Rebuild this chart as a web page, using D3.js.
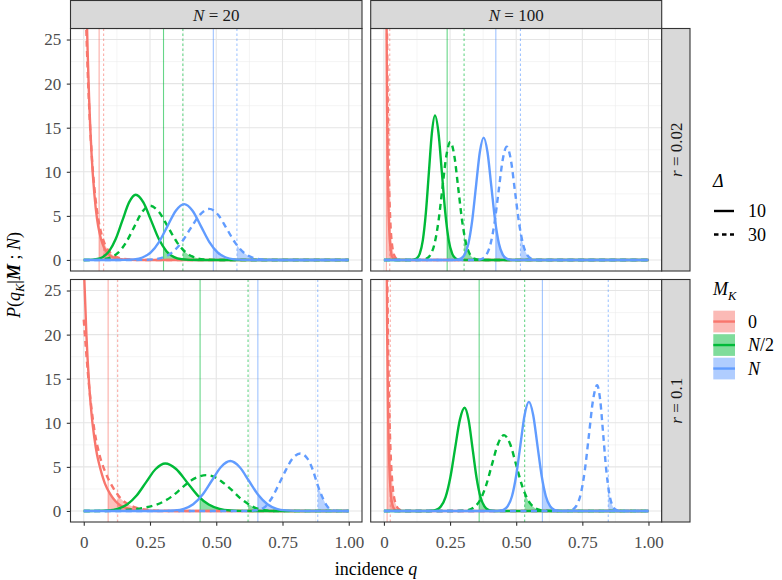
<!DOCTYPE html>
<html><head><meta charset="utf-8">
<script src="https://cdn.jsdelivr.net/npm/d3@7"></script>
<style>
body{margin:0;background:#fff}
svg{display:block}
text{font-family:"Liberation Serif","Times New Roman","DejaVu Serif",serif}
</style>
</head><body>
<svg id="chart" width="782" height="580"></svg>
<script>
// ---------- tick labels / categories ----------
const qTicks = [0, 0.25, 0.5, 0.75, 1];
const qTickLabels = ["0", "0.25", "0.50", "0.75", "1.00"];
const qMinor = [0.125, 0.375, 0.625, 0.875];
const densTicks = [0, 5, 10, 15, 20, 25];
const densMinor = [2.5, 7.5, 12.5, 17.5, 22.5];
const colLabels = ["20", "100"];          // N
const rowLabels = ["0.02", "0.1"];        // r
const mkLabels = ["0", "N/2", "N"];
const deltaLabels = ["10", "30"];
const mkColors = ["#F8766D", "#00BA38", "#619CFF"];

// ---------- densities (q, P) : panel N=20, r=0.02 ----------
const A_M0_d10 = [[0,46],[0.005,36.6],[0.01,29.2],[0.015,23.3],[0.02,18.5],[0.03,11.7],[0.04,7.5],[0.05,4.7],[0.06,3.0],[0.07,1.9],[0.08,1.2],[0.1,0.49],[0.12,0.2],[0.15,0.05],[0.2,0],[1,0]];
const A_M0_d30 = [[0,38],[0.005,31.3],[0.01,25.8],[0.015,21.3],[0.02,17.6],[0.03,12.0],[0.04,8.2],[0.05,5.6],[0.06,3.8],[0.07,2.6],[0.08,1.75],[0.1,0.82],[0.12,0.38],[0.15,0.12],[0.2,0.02],[0.25,0],[1,0]];
const A_Mh_d10 = [[0,0],[0.02,0.01],[0.046,0.08],[0.071,0.32],[0.096,1.0],[0.121,2.4],[0.146,4.49],[0.171,6.53],[0.196,7.4],[0.225,6.53],[0.254,4.49],[0.283,2.4],[0.312,1.0],[0.341,0.32],[0.37,0.08],[0.399,0.016],[0.43,0],[1,0]];
const A_Mh_d30 = [[0,0],[0.04,0.01],[0.07,0.068],[0.1,0.27],[0.13,0.83],[0.16,2.0],[0.19,3.73],[0.22,5.43],[0.25,6.15],[0.284,5.43],[0.318,3.73],[0.352,2.0],[0.386,0.83],[0.42,0.27],[0.454,0.068],[0.49,0.012],[0.53,0],[1,0]];
const A_MN_d10 = [[0,0],[0.12,0],[0.159,0.014],[0.19,0.07],[0.2215,0.28],[0.253,0.86],[0.2845,2.06],[0.316,3.84],[0.3475,5.59],[0.379,6.33],[0.4105,5.59],[0.442,3.84],[0.4735,2.06],[0.505,0.86],[0.5365,0.28],[0.568,0.07],[0.599,0.014],[0.64,0],[1,0]];
const A_MN_d30 = [[0,0],[0.18,0],[0.22,0.013],[0.258,0.064],[0.294,0.25],[0.33,0.78],[0.366,1.88],[0.402,3.52],[0.438,5.12],[0.474,5.8],[0.507,5.12],[0.54,3.52],[0.573,1.88],[0.606,0.78],[0.639,0.25],[0.672,0.064],[0.705,0.013],[0.74,0],[1,0]];
const vA = [0.058, 0.075, 0.301, 0.374, 0.489, 0.578];

// ---------- panel N=100, r=0.02 ----------
const B_M0_d10 = [[0,190],[0.004,85],[0.008,38],[0.012,17],[0.016,7.7],[0.02,3.5],[0.025,1.3],[0.03,0.47],[0.04,0.06],[0.05,0],[1,0]];
const B_M0_d30 = [[0,140],[0.004,79],[0.008,45],[0.012,25],[0.016,14.3],[0.02,8.1],[0.025,3.9],[0.03,1.9],[0.035,0.94],[0.04,0.46],[0.05,0.11],[0.06,0.03],[0.07,0],[1,0]];
const B_Mh_d10 = [[0,0],[0.1,0],[0.1125,0.036],[0.124,0.18],[0.1355,0.72],[0.147,2.22],[0.1585,5.33],[0.17,9.95],[0.1815,14.47],[0.193,16.4],[0.206,14.47],[0.219,9.95],[0.232,5.33],[0.245,2.22],[0.258,0.72],[0.271,0.18],[0.284,0.036],[0.3,0],[1,0]];
const B_Mh_d30 = [[0,0],[0.13,0],[0.146,0.03],[0.161,0.15],[0.176,0.59],[0.191,1.81],[0.206,4.35],[0.221,8.13],[0.236,11.83],[0.251,13.4],[0.266,11.83],[0.281,8.13],[0.296,4.35],[0.311,1.81],[0.326,0.59],[0.341,0.15],[0.356,0.03],[0.37,0],[1,0]];
const B_MN_d10 = [[0,0],[0.26,0],[0.2762,0.03],[0.2906,0.154],[0.305,0.61],[0.3194,1.88],[0.3338,4.5],[0.3482,8.41],[0.3626,12.24],[0.377,13.87],[0.3914,12.24],[0.4058,8.41],[0.4202,4.5],[0.4346,1.88],[0.449,0.61],[0.4634,0.154],[0.4778,0.03],[0.49,0],[1,0]];
const B_MN_d30 = [[0,0],[0.34,0],[0.3559,0.028],[0.3714,0.14],[0.3869,0.56],[0.4024,1.74],[0.4179,4.17],[0.4334,7.79],[0.4489,11.34],[0.4644,12.85],[0.4799,11.34],[0.4954,7.79],[0.5109,4.17],[0.5264,1.74],[0.5419,0.56],[0.5574,0.14],[0.5729,0.028],[0.59,0],[1,0]];
const vB = [0.009, 0.022, 0.239, 0.303, 0.423, 0.516];

// ---------- panel N=20, r=0.1 ----------
const C_M0_d10 = [[0,28],[0.01,20],[0.02,14.5],[0.03,10.8],[0.04,8.3],[0.05,6.4],[0.06,5.1],[0.07,4.0],[0.08,3.1],[0.1,1.9],[0.12,1.1],[0.14,0.6],[0.16,0.35],[0.2,0.1],[0.25,0.02],[0.3,0],[1,0]];
const C_M0_d30 = [[0,21.7],[0.02,14.2],[0.04,9.2],[0.06,6.3],[0.08,4.5],[0.1,3.2],[0.12,2.2],[0.14,1.4],[0.16,0.9],[0.2,0.35],[0.25,0.1],[0.3,0.02],[0.35,0],[1,0]];
const C_Mh_d10 = [[0,0],[0.05,0.01],[0.0915,0.06],[0.1275,0.24],[0.1635,0.73],[0.1995,1.75],[0.2355,3.27],[0.2715,4.76],[0.3075,5.39],[0.3485,4.76],[0.3895,3.27],[0.4305,1.75],[0.4715,0.73],[0.5125,0.24],[0.5535,0.06],[0.5945,0.012],[0.64,0],[1,0]];
const C_Mh_d30 = [[0,0],[0.06,0],[0.1,0.02],[0.14,0.07],[0.179,0.16],[0.22,0.33],[0.267,0.65],[0.3,1.05],[0.33,1.6],[0.355,2.2],[0.38,2.87],[0.405,3.45],[0.43,3.85],[0.462,4.07],[0.49,3.9],[0.52,3.35],[0.556,2.45],[0.585,1.6],[0.606,1.1],[0.637,0.5],[0.665,0.18],[0.69,0.05],[0.72,0],[1,0]];
const C_MN_d10 = [[0,0],[0.27,0],[0.308,0.012],[0.343,0.063],[0.378,0.25],[0.413,0.77],[0.448,1.84],[0.483,3.43],[0.518,4.99],[0.553,5.66],[0.588,4.99],[0.623,3.43],[0.658,1.84],[0.693,0.77],[0.728,0.25],[0.763,0.063],[0.798,0.012],[0.84,0],[1,0]];
const C_MN_d30 = [[0,0],[0.62,0],[0.65,0.08],[0.681,0.4],[0.706,1.3],[0.731,2.7],[0.762,4.6],[0.788,5.95],[0.817,6.52],[0.845,5.9],[0.865,4.6],[0.883,2.9],[0.9,1.6],[0.915,0.7],[0.93,0.2],[0.945,0.04],[0.96,0],[1,0]];
const vC = [0.092, 0.128, 0.439, 0.620, 0.657, 0.883];

// ---------- panel N=100, r=0.1 ----------
const D_M0_d10 = [[0,160],[0.004,81],[0.008,41],[0.012,21],[0.016,10.6],[0.02,5.4],[0.025,2.3],[0.03,1.0],[0.04,0.19],[0.05,0.03],[0.06,0],[1,0]];
const D_M0_d30 = [[0,110],[0.005,63],[0.01,36],[0.015,20.8],[0.02,11.9],[0.025,6.8],[0.03,3.9],[0.035,2.2],[0.04,1.3],[0.05,0.43],[0.06,0.14],[0.07,0.05],[0.08,0],[1,0]];
const D_Mh_d10 = [[0,0],[0.16,0],[0.179,0.026],[0.197,0.13],[0.215,0.51],[0.233,1.58],[0.251,3.8],[0.269,7.1],[0.287,10.33],[0.305,11.7],[0.32,10.33],[0.335,7.1],[0.35,3.8],[0.365,1.58],[0.38,0.51],[0.395,0.13],[0.41,0.026],[0.43,0],[1,0]];
const D_Mh_d30 = [[0,0],[0.27,0],[0.293,0.019],[0.316,0.095],[0.339,0.38],[0.362,1.16],[0.385,2.79],[0.408,5.22],[0.431,7.59],[0.454,8.6],[0.477,7.59],[0.5,5.22],[0.523,2.79],[0.546,1.16],[0.569,0.38],[0.592,0.095],[0.615,0.019],[0.64,0],[1,0]];
const D_MN_d10 = [[0,0],[0.42,0],[0.436,0.027],[0.452,0.137],[0.468,0.54],[0.484,1.67],[0.5,4.02],[0.516,7.5],[0.532,10.92],[0.548,12.37],[0.564,10.92],[0.58,7.5],[0.596,4.02],[0.612,1.67],[0.628,0.54],[0.644,0.137],[0.66,0.027],[0.675,0],[1,0]];
const D_MN_d30 = [[0,0],[0.68,0],[0.6975,0.03],[0.713,0.158],[0.7285,0.63],[0.744,1.93],[0.7595,4.63],[0.775,8.64],[0.7905,12.58],[0.806,14.25],[0.8175,12.58],[0.829,8.64],[0.8405,4.63],[0.852,1.93],[0.8635,0.63],[0.875,0.158],[0.8865,0.03],[0.9,0],[1,0]];
const vD = [0.012, 0.024, 0.360, 0.532, 0.599, 0.848];

// ---------- layout ----------
const svg = d3.select("#chart");
const cols = [{x0:70.5, x1:362}, {x0:370.7, x1:661.7}];
const rows = [{y0:28.5, y1:271}, {y0:279.5, y1:522}];
const panels = [
  {c:0, r:0, curves:[A_M0_d10,A_M0_d30,A_Mh_d10,A_Mh_d30,A_MN_d10,A_MN_d30], vl:vA},
  {c:1, r:0, curves:[B_M0_d10,B_M0_d30,B_Mh_d10,B_Mh_d30,B_MN_d10,B_MN_d30], vl:vB},
  {c:0, r:1, curves:[C_M0_d10,C_M0_d30,C_Mh_d10,C_Mh_d30,C_MN_d10,C_MN_d30], vl:vC},
  {c:1, r:1, curves:[D_M0_d10,D_M0_d30,D_Mh_d10,D_Mh_d30,D_MN_d10,D_MN_d30], vl:vD}
];
const SERIF = '"Liberation Serif","Times New Roman",serif';
const TICK_FS = 17, STRIP_FS = 17, TITLE_FS = 18, LEG_FS = 18;
const defs = svg.append("defs");

panels.forEach((p, pi) => {
  const {x0, x1} = cols[p.c], {y0, y1} = rows[p.r];
  const x = d3.scaleLinear().domain([-0.05, 1.05]).range([x0, x1]);
  const y = d3.scaleLinear().domain([-1.25, 26.25]).range([y1, y0]);
  const clipId = "clip" + pi;
  defs.append("clipPath").attr("id", clipId).append("rect")
    .attr("x", x0).attr("y", y0).attr("width", x1 - x0).attr("height", y1 - y0);
  const g = svg.append("g");
  g.append("rect").attr("x", x0).attr("y", y0).attr("width", x1 - x0).attr("height", y1 - y0).attr("fill", "#fff");
  // grid
  const grid = g.append("g");
  grid.selectAll(".vmin").data(qMinor).join("line")
    .attr("x1", d => x(d)).attr("x2", d => x(d)).attr("y1", y0).attr("y2", y1)
    .attr("stroke", "#EBEBEB").attr("stroke-width", 0.55);
  grid.selectAll(".hmin").data(densMinor).join("line")
    .attr("x1", x0).attr("x2", x1).attr("y1", d => y(d)).attr("y2", d => y(d))
    .attr("stroke", "#EBEBEB").attr("stroke-width", 0.55);
  grid.selectAll(".vmaj").data(qTicks).join("line")
    .attr("x1", d => x(d)).attr("x2", d => x(d)).attr("y1", y0).attr("y2", y1)
    .attr("stroke", "#E5E5E5").attr("stroke-width", 1.1);
  grid.selectAll(".hmaj").data(densTicks).join("line")
    .attr("x1", x0).attr("x2", x1).attr("y1", d => y(d)).attr("y2", d => y(d))
    .attr("stroke", "#E5E5E5").attr("stroke-width", 1.1);

  const plot = g.append("g").attr("clip-path", `url(#${clipId})`);
  const area = d3.area().x(d => x(d[0])).y0(y(0)).y1(d => y(d[1])).curve(d3.curveMonotoneX);
  const line = d3.line().x(d => x(d[0])).y(d => y(d[1])).curve(d3.curveMonotoneX);

  // shaded tails beyond the vertical reference lines
  p.curves.forEach((cv, i) => {
    const cid = `tail${pi}_${i}`;
    const xs = Math.max(x(p.vl[i]), x0);
    defs.append("clipPath").attr("id", cid).append("rect")
      .attr("x", xs).attr("y", y0).attr("width", Math.max(0, x1 - xs)).attr("height", y1 - y0);
    plot.append("g").attr("clip-path", `url(#${cid})`)
      .append("path").datum(cv).attr("d", area)
      .attr("fill", mkColors[Math.floor(i / 2)]).attr("fill-opacity", 0.45);
  });
  // vertical lines
  p.vl.forEach((v, i) => {
    plot.append("line").attr("x1", x(v)).attr("x2", x(v)).attr("y1", y0).attr("y2", y1)
      .attr("stroke", mkColors[Math.floor(i / 2)]).attr("stroke-opacity", 0.6)
      .attr("stroke-width", 1.1)
      .attr("stroke-dasharray", i % 2 ? "2.5,2.5" : null);
  });
  // density curves
  p.curves.forEach((cv, i) => {
    plot.append("path").datum(cv).attr("d", line)
      .attr("fill", "none").attr("stroke", mkColors[Math.floor(i / 2)])
      .attr("stroke-width", 2.4).attr("stroke-linejoin", "round")
      .attr("stroke-dasharray", i % 2 ? "6,4.5" : null);
  });
  // border
  g.append("rect").attr("x", x0).attr("y", y0).attr("width", x1 - x0).attr("height", y1 - y0)
    .attr("fill", "none").attr("stroke", "#333333").attr("stroke-width", 1.1);

  // axes
  if (p.c === 0) {
    const ax = svg.append("g").attr("transform", `translate(${x0},0)`)
      .call(d3.axisLeft(y).tickValues(densTicks).tickSize(3.7).tickPadding(5.5));
    ax.attr("font-family", SERIF);
    ax.select(".domain").remove();
    ax.selectAll("line").attr("stroke", "#333333").attr("stroke-width", 1.1);
    ax.selectAll("text").attr("fill", "#4D4D4D").style("font-size", TICK_FS + "px")
      .style("font-family", SERIF);
  }
  if (p.r === 1) {
    const ax = svg.append("g").attr("transform", `translate(0,${y1})`)
      .call(d3.axisBottom(x).tickValues(qTicks).tickFormat((d, i) => qTickLabels[i]).tickSize(3.7).tickPadding(10));
    ax.attr("font-family", SERIF);
    ax.select(".domain").remove();
    ax.selectAll("line").attr("stroke", "#333333").attr("stroke-width", 1.1);
    ax.selectAll("text").attr("fill", "#4D4D4D").style("font-size", TICK_FS + "px")
      .style("font-family", SERIF);
  }
  // top strips
  if (p.r === 0) {
    svg.append("rect").attr("x", x0).attr("y", 0.5).attr("width", x1 - x0).attr("height", y0 - 0.5)
      .attr("fill", "#D9D9D9").attr("stroke", "#333333").attr("stroke-width", 1.1);
    const t = svg.append("text").attr("x", (x0 + x1) / 2).attr("y", 20.5).attr("text-anchor", "middle")
      .attr("fill", "#1A1A1A").style("font-size", STRIP_FS + "px");
    t.append("tspan").attr("font-style", "italic").text("N");
    t.append("tspan").text(" = " + colLabels[p.c]);
  }
  // right strips
  if (p.c === 1) {
    svg.append("rect").attr("x", x1).attr("y", y0).attr("width", 28.3).attr("height", y1 - y0)
      .attr("fill", "#D9D9D9").attr("stroke", "#333333").attr("stroke-width", 1.1);
    const t = svg.append("text")
      .attr("transform", `translate(${x1 + 20},${(y0 + y1) / 2}) rotate(-90)`)
      .attr("text-anchor", "middle").attr("fill", "#1A1A1A").style("font-size", STRIP_FS + "px");
    t.append("tspan").attr("font-style", "italic").text("r");
    t.append("tspan").text(" = " + rowLabels[p.r]);
  }
});

// axis titles
const xt = svg.append("text").attr("x", 376).attr("y", 575).attr("text-anchor", "middle")
  .attr("fill", "#000").style("font-size", TITLE_FS + "px");
xt.append("tspan").text("incidence ");
xt.append("tspan").attr("font-style", "italic").text("q");

const yt = svg.append("text").attr("transform", "translate(20,275) rotate(-90)")
  .attr("text-anchor", "middle").attr("fill", "#000").style("font-size", TITLE_FS + "px");
yt.append("tspan").attr("font-style", "italic").text("P");
yt.append("tspan").text("(");
yt.append("tspan").attr("font-style", "italic").text("q");
yt.append("tspan").attr("font-style", "italic").attr("dy", 4).style("font-size", "12.5px").text("K");
yt.append("tspan").attr("dy", -4).text("|");
yt.append("tspan").attr("font-style", "italic").attr("font-weight", "bold").text("M");
yt.append("tspan").text(" ; ");
yt.append("tspan").attr("font-style", "italic").text("N");
yt.append("tspan").text(")");

// legend: Delta
const lg = svg.append("g");
lg.append("text").attr("x", 713).attr("y", 187).attr("font-style", "italic")
  .style("font-size", LEG_FS + "px").text("\u0394");
deltaLabels.forEach((lab, i) => {
  const cy = 211 + i * 23.5;
  lg.append("line").attr("x1", 714).attr("x2", 734).attr("y1", cy).attr("y2", cy)
    .attr("stroke", "#000").attr("stroke-width", 2.4).attr("stroke-dasharray", i ? "4.5,3.5" : null);
  lg.append("text").attr("x", 748).attr("y", cy + 6).style("font-size", LEG_FS + "px").text(lab);
});
// legend: M_K
const mt = lg.append("text").attr("x", 713).attr("y", 295).style("font-size", LEG_FS + "px");
mt.append("tspan").attr("font-style", "italic").text("M");
mt.append("tspan").attr("font-style", "italic").attr("dy", 5).style("font-size", "12.5px").text("K");
mkLabels.forEach((lab, i) => {
  const top = 310.7 + i * 23.5;
  lg.append("rect").attr("x", 713.3).attr("y", top).attr("width", 21.7).attr("height", 21.7)
    .attr("fill", mkColors[i]).attr("fill-opacity", 0.5);
  lg.append("line").attr("x1", 713.3).attr("x2", 735).attr("y1", top + 10.85).attr("y2", top + 10.85)
    .attr("stroke", mkColors[i]).attr("stroke-width", 2.4);
  const t = lg.append("text").attr("x", 748).attr("y", top + 17).style("font-size", LEG_FS + "px");
  if (i === 0) t.text(lab);
  else if (i === 1) { t.append("tspan").attr("font-style", "italic").text("N"); t.append("tspan").text("/2"); }
  else t.append("tspan").attr("font-style", "italic").text("N");
});
</script>
</body></html>
